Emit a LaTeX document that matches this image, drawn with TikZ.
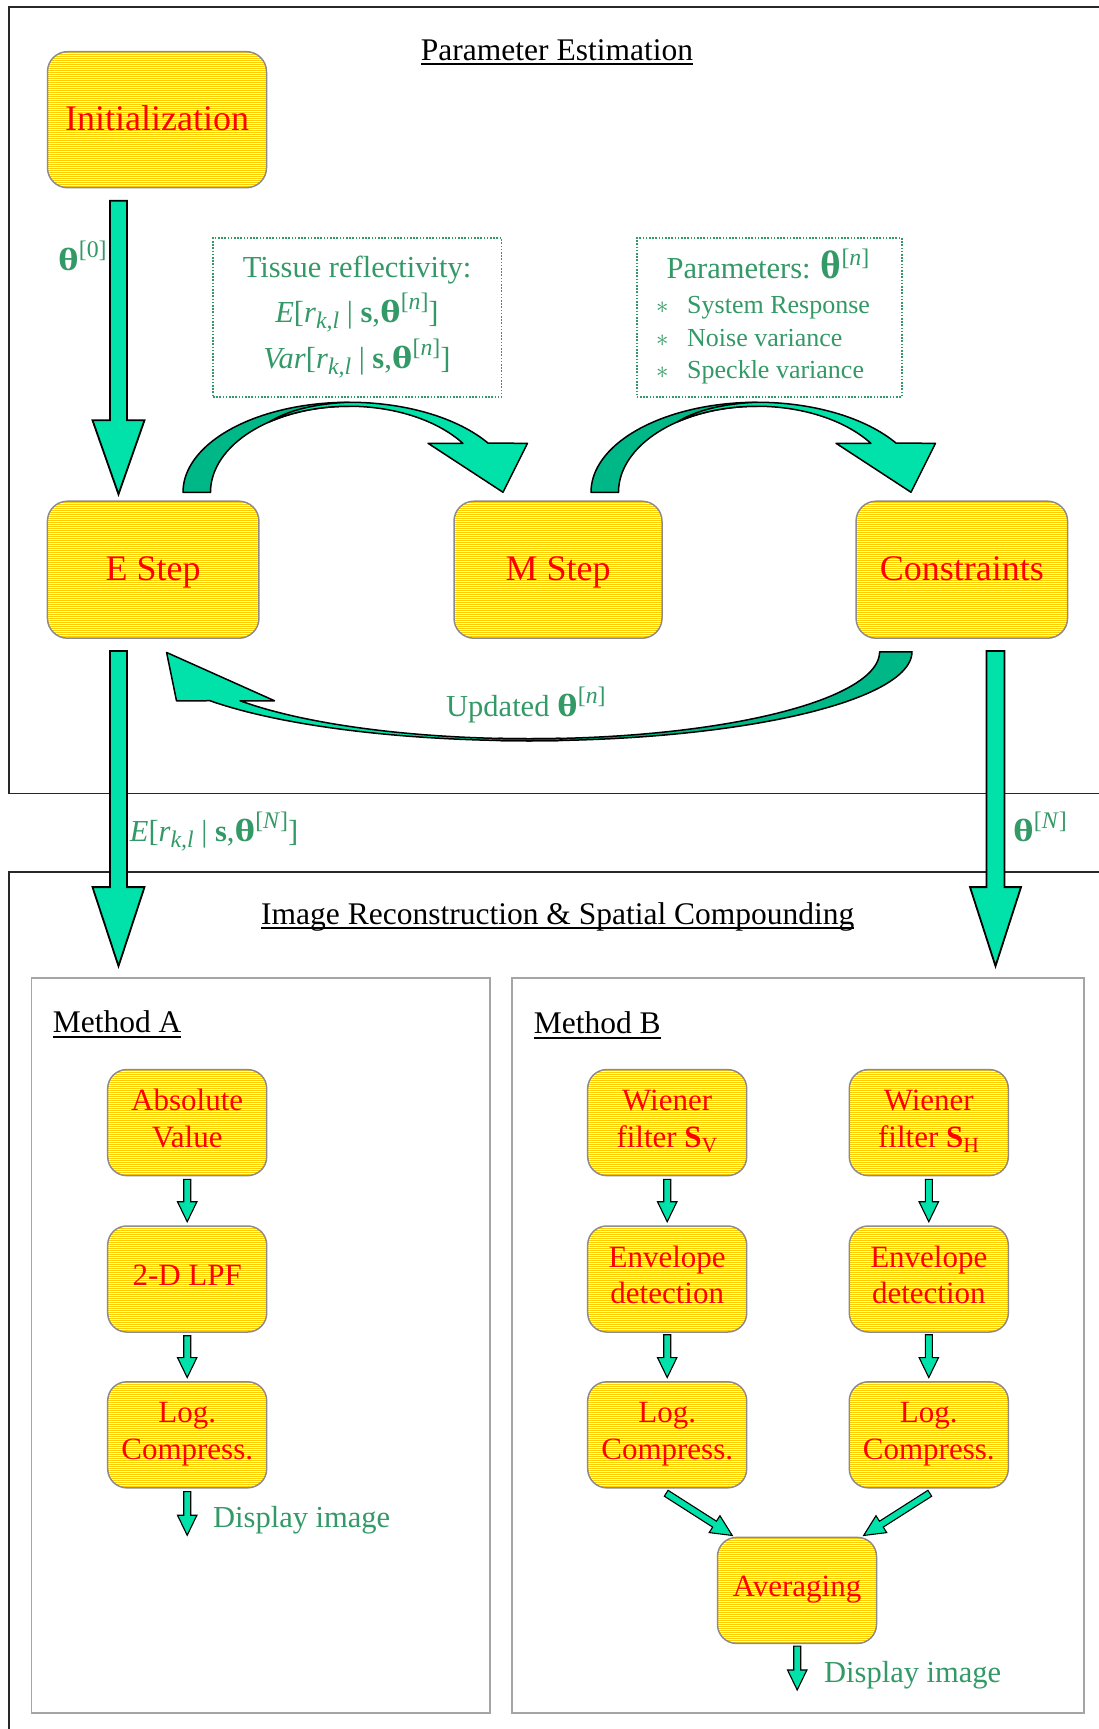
\documentclass[tikz,border=0pt]{standalone}
\usepackage{fontspec}
\usepackage{graphicx}
\setmainfont{Liberation Serif}
\usetikzlibrary{calc}
\definecolor{stripe}{RGB}{255,204,0}
\definecolor{boxgray}{RGB}{140,140,140}
\definecolor{txtred}{RGB}{255,0,0}
\definecolor{txtgreen}{RGB}{51,153,102}
\definecolor{arrlight}{RGB}{0,226,170}
\definecolor{arrdark}{RGB}{0,183,136}
\definecolor{methgray}{RGB}{165,165,165}
\definecolor{framecol}{RGB}{40,40,40}
\newcommand\myul[1]{\setbox0\hbox{#1}\rlap{\rule[-5pt]{\wd0}{1.7pt}}\box0}
\newcommand\bst{\rule[-9.4pt]{0pt}{39.4pt}}
\newcommand\sfirst{\rule{0pt}{24pt}}
\newcommand\slast{\rule[-11.5pt]{0pt}{11.5pt}}
\newcommand\sone{\rule[-11.5pt]{0pt}{35.5pt}}
\newcommand\mysub[1]{\raisebox{-0.2em}{\scalebox{0.78}{#1}}}
\newcommand\mysup[1]{\raisebox{0.42em}{\scalebox{0.78}{#1}}}
\newcommand\thg{\scalebox{1.3}[1.05]{\textbf{θ}}}
\newcommand\bth[1]{\thg\mysup{[#1]}}
\newcommand\Eexpr[1]{\textit{E}[\textit{r}\mysub{\textit{k,l}} | \textbf{s},\bth{#1}]}
\newcommand\Vexpr[1]{\textit{Var}[\textit{r}\mysub{\textit{k,l}} | \textbf{s},\bth{#1}]}
% striped rounded background: cx, cy, w, h, r
\newcommand\stripes[5]{%
  \begin{scope}
  \clip[rounded corners=#5pt] ({#1-#3/2},{#2-#4/2}) rectangle ({#1+#3/2},{#2+#4/2});
  \pgfmathtruncatemacro\ka{(#2-#4/2)/2-1}%
  \pgfmathtruncatemacro\kb{(#2+#4/2)/2+1}%
  \foreach \k in {\ka,...,\kb}{\fill[stripe] ({#1-#3/2-2},2*\k) rectangle ({#1+#3/2+2},2*\k+1);}
  \end{scope}}
\newcommand{\blockarrow}[6][bigarrow]{%
  \coordinate (bah) at ($(#3)!#6pt!(#2)$);
  \path[#1] ($(#2)!#4pt!90:(#3)$) -- ($(bah)!#4pt!-90:(#2)$) -- ($(bah)!#5pt!-90:(#2)$) -- (#3)
     -- ($(bah)!#5pt!90:(#2)$) -- ($(bah)!#4pt!90:(#2)$) -- ($(#2)!#4pt!-90:(#3)$) -- cycle;}
\newcommand\curvedown{%
  \path[curvedark] plot[domain=180:90,samples=50,variable=\t] ({166*cos(\t)},{-90*sin(\t)})
     -- plot[domain=90:180,samples=50,variable=\t] ({138.5*cos(\t)},{-86*sin(\t)}) -- cycle;
  \path[curvelight] plot[domain=125:90,samples=30,variable=\t] ({(138.5+(125-\t)/35*27.5)*cos(\t)},{-(86+(125-\t)/35*4)*sin(\t)})
     -- plot[domain=90:33,samples=50,variable=\t] ({166*cos(\t)},{-90*sin(\t)})
     -- (178.5,-49) -- (154,0) -- (79,-49)
     -- plot[domain=34.7:125,samples=50,variable=\t] ({138.5*cos(\t)},{-86*sin(\t)}) -- cycle;}
\newcommand\curveup{%
  \path[curvedark] plot[domain=360:265,samples=60,variable=\t] ({382.6*cos(\t)},{-89*sin(\t)})
     -- plot[domain=265:360,samples=60,variable=\t] ({350.2*cos(\t)},{-87*sin(\t)}) -- cycle;
  \path[curvelight] plot[domain=213.4:275,samples=60,variable=\t] ({382.6*cos(\t)},{-89*sin(\t)})
     -- plot[domain=275:214.28,samples=60,variable=\t] ({350.2*cos(\t)},{-87*sin(\t)})
     -- (-254.9,49) -- (-362.8,0.7) -- (-352.9,49) -- cycle;}
\begin{document}
\begin{tikzpicture}[x=1pt,y=-1pt,
  bigbox/.style={rectangle, rounded corners=20pt, draw=boxgray, line width=1.5pt,
     text=txtred, font=\fontsize{36pt}{40pt}\selectfont, inner sep=0pt, minimum height=137pt},
  smallbox/.style={bigbox, rounded corners=19pt, font=\fontsize{31pt}{36.5pt}\selectfont,
     minimum width=159pt, minimum height=106pt, align=center},
  dotbox/.style={rectangle, draw=txtgreen, line width=1.6pt, dash pattern=on 1.6pt off 1.6pt, inner sep=0pt},
  methbox/.style={rectangle, draw=methgray, line width=1.8pt, inner sep=0pt},
  gtxt/.style={text=txtgreen, font=\fontsize{30.5pt}{36pt}\selectfont, inner sep=0pt},
  gsmall/.style={gtxt, font=\fontsize{26pt}{30pt}\selectfont},
  ktxt/.style={text=black, font=\fontsize{31.5pt}{36pt}\selectfont, inner sep=0pt},
  bigarrow/.style={fill=arrlight, draw=black, line width=1.8pt, line join=miter},
  smallarrow/.style={fill=arrlight, draw=black, line width=1.1pt, line join=miter},
  curvedark/.style={fill=arrdark, draw=black, line width=1.5pt, line join=round},
  curvelight/.style={fill=arrlight, draw=black, line width=1.5pt, line join=round}]
\useasboundingbox (0,0) rectangle (1099,1729);
\fill[white] (0,0) rectangle (1099,1729);
% frames
\draw[framecol, line width=1.8pt] (1099,7) -- (8.8,7) -- (8.8,793.5) -- (1099,793.5);
\draw[framecol, line width=1.8pt] (1099,872.3) -- (8.8,872.3) -- (8.8,1729);
\node[methbox, minimum width=458.5pt, minimum height=734.6pt] (methA) at (260.75,1345.3) {};
\node[methbox, minimum width=572pt, minimum height=734.6pt] (methB) at (798.3,1345.3) {};
% titles
\node[ktxt, anchor=base] (ttl1) at (557,60) {\myul{Parameter Estimation}};
\node[ktxt, anchor=base] (ttl2) at (557.8,924) {\myul{Image Reconstruction \& Spatial Compounding}};
\node[ktxt, anchor=base west] (mA) at (52.6,1032.5) {\myul{Method A}};
\node[ktxt, anchor=base west] (mB) at (533.6,1033.5) {\myul{Method B}};
% striped backgrounds of the boxes
\stripes{157}{119.7}{219}{136}{20}
\stripes{153.2}{569.7}{211.5}{137}{20}
\stripes{558}{569.7}{208}{137}{20}
\stripes{961.8}{569.7}{211.5}{137}{20}
\foreach \cx in {187.2,667.2,928.8}{
  \stripes{\cx}{1122.6}{159}{106}{19}
  \stripes{\cx}{1279}{159}{106}{19}
  \stripes{\cx}{1434.8}{159}{106}{19}}
\stripes{797}{1590.4}{159}{106}{19}
% big boxes
\node[bigbox, minimum width=219pt, minimum height=136pt] (init) at (157,119.7) {\bst Initialization};
\node[bigbox, minimum width=211.5pt] (estep) at (153.2,569.7) {\bst E Step};
\node[bigbox, minimum width=208pt] (mstep) at (558,569.7) {\bst M Step};
\node[bigbox, minimum width=211.5pt] (cons) at (961.8,569.7) {\bst Constraints};
% dotted boxes
\node[dotbox, minimum width=288.6pt, minimum height=159pt] (tissue) at (357.3,317.5) {};
\node[dotbox, minimum width=265pt, minimum height=159pt] (params) at (769.3,317.5) {};
\node[gtxt, anchor=base] (t1) at (357,277) {Tissue reflectivity:};
\node[gtxt, anchor=base] (t2) at (357,322) {\Eexpr{\textit{n}}};
\node[gtxt, anchor=base] (t3) at (357,368) {\Vexpr{\textit{n}}};
\node[gtxt, anchor=base] (p0) at (768,278) {Parameters: \scalebox{1.3}{\textbf{θ}}\mysup{[\textit{n}]}};
\node[gsmall, anchor=base west] (p1) at (656,313) {\makebox[31pt][l]{$\ast$}System Response};
\node[gsmall, anchor=base west] (p2) at (656,346) {\makebox[31pt][l]{$\ast$}Noise variance};
\node[gsmall, anchor=base west] (p3) at (656,378) {\makebox[31pt][l]{$\ast$}Speckle variance};
% labels
\node[gtxt, anchor=base west] (th0) at (58,270) {\bth{0}};
\node[gtxt, anchor=base west] (upd) at (446,716.7) {Updated \bth{\textit{n}}};
\node[gtxt, anchor=base west] (eN) at (129.7,841.7) {\Eexpr{\textit{N}}};
\node[gtxt, anchor=base west] (thN) at (1013,841.7) {\bth{\textit{N}}};
% small boxes
\node[smallbox] (abs) at (187.2,1122.6) {\sfirst Absolute\\Value\slast};
\node[smallbox] (lpf) at (187.2,1279) {\sone 2-D LPF};
\node[smallbox] (logA) at (187.2,1434.8) {\sfirst Log.\\Compress.\slast};
\node[smallbox] (wv) at (667.2,1122.6) {\sfirst Wiener\\filter \textbf{S}\textsubscript{V}\slast};
\node[smallbox] (wh) at (928.8,1122.6) {\sfirst Wiener\\filter \textbf{S}\textsubscript{H}\slast};
\node[smallbox] (envV) at (667.2,1279) {\sfirst Envelope\\detection\slast};
\node[smallbox] (envH) at (928.8,1279) {\sfirst Envelope\\detection\slast};
\node[smallbox] (logV) at (667.2,1434.8) {\sfirst Log.\\Compress.\slast};
\node[smallbox] (logH) at (928.8,1434.8) {\sfirst Log.\\Compress.\slast};
\node[smallbox] (avg) at (797,1590.4) {\sone Averaging};
\node[gtxt, anchor=base west] (dispAt) at (213,1527.9) {Display image};
\node[gtxt, anchor=base west] (dispBt) at (824,1682.8) {Display image};
% big straight arrows
\coordinate (a1s) at ($(init.south)+(-38.5,12.3)$);
\coordinate (a1e) at ($(estep.north)+(-34.7,-6.2)$);
\blockarrow{a1s}{a1e}{8.5}{26}{74}
\coordinate (a2s) at ($(estep.south)+(-34.7,12)$);
\coordinate (a2e) at ($(methA.north)+(-142.25,-11)$);
\blockarrow{a2s}{a2e}{8.5}{26}{79}
\coordinate (a3s) at ($(cons.south)+(33.7,12)$);
\coordinate (a3e) at ($(methB.north)+(197.2,-11)$);
\blockarrow{a3s}{a3e}{9}{25.5}{79}
% curved arrows
\coordinate (arc1) at ($(estep.north)+(195.8,-8.2)$);
\coordinate (arc2) at ($(mstep.north)+(199,-8.2)$);
\coordinate (arc3) at ($(cons.south)+(-432.4,12.8)$);
\begin{scope}[shift={(arc1)}]\curvedown\end{scope}
\begin{scope}[shift={(arc2)}]\curvedown\end{scope}
\begin{scope}[shift={(arc3)}]\curveup\end{scope}
% small arrows
\coordinate (s1s) at ($(abs.south)+(0,3)$);  \coordinate (s1e) at ($(lpf.north)+(0,-3.5)$);
\blockarrow[smallarrow]{s1s}{s1e}{3.5}{9.7}{20}
\coordinate (s2s) at ($(lpf.south)+(0,3)$);  \coordinate (s2e) at ($(logA.north)+(0,-3.5)$);
\blockarrow[smallarrow]{s2s}{s2e}{3.5}{9.7}{20}
\coordinate (s3s) at ($(logA.south)+(0,3)$);  \coordinate (dispA) at ($(logA.south)+(0,46.7)$);
\blockarrow[smallarrow]{s3s}{dispA}{3.5}{9.7}{20}
\coordinate (s4s) at ($(wv.south)+(0,3)$);  \coordinate (s4e) at ($(envV.north)+(0,-3.5)$);
\blockarrow[smallarrow]{s4s}{s4e}{3.5}{9.7}{20}
\coordinate (s5s) at ($(wh.south)+(0,3)$);  \coordinate (s5e) at ($(envH.north)+(0,-3.5)$);
\blockarrow[smallarrow]{s5s}{s5e}{3.5}{9.7}{20}
\coordinate (s6s) at ($(envV.south)+(0,2)$);  \coordinate (s6e) at ($(logV.north)+(0,-3.5)$);
\blockarrow[smallarrow]{s6s}{s6e}{3.5}{9.7}{20}
\coordinate (s7s) at ($(envH.south)+(0,2)$);  \coordinate (s7e) at ($(logH.north)+(0,-3.5)$);
\blockarrow[smallarrow]{s7s}{s7e}{3.5}{9.7}{20}
\coordinate (s8s) at ($(logV.south)+(-1,4.7)$);  \coordinate (s8e) at ($(avg.north west)+(15.5,-1.2)$);
\blockarrow[smallarrow]{s8s}{s8e}{3.5}{10}{21}
\coordinate (s9s) at ($(logH.south)+(1,4.7)$);  \coordinate (s9e) at ($(avg.north east)+(-13.6,-1.2)$);
\blockarrow[smallarrow]{s9s}{s9e}{3.5}{10}{21}
\coordinate (s10s) at ($(avg.south)+(0.2,2)$);  \coordinate (dispB) at ($(avg.south)+(0.2,45.8)$);
\blockarrow[smallarrow]{s10s}{dispB}{3.5}{9.7}{20}
\end{tikzpicture}
\end{document}
